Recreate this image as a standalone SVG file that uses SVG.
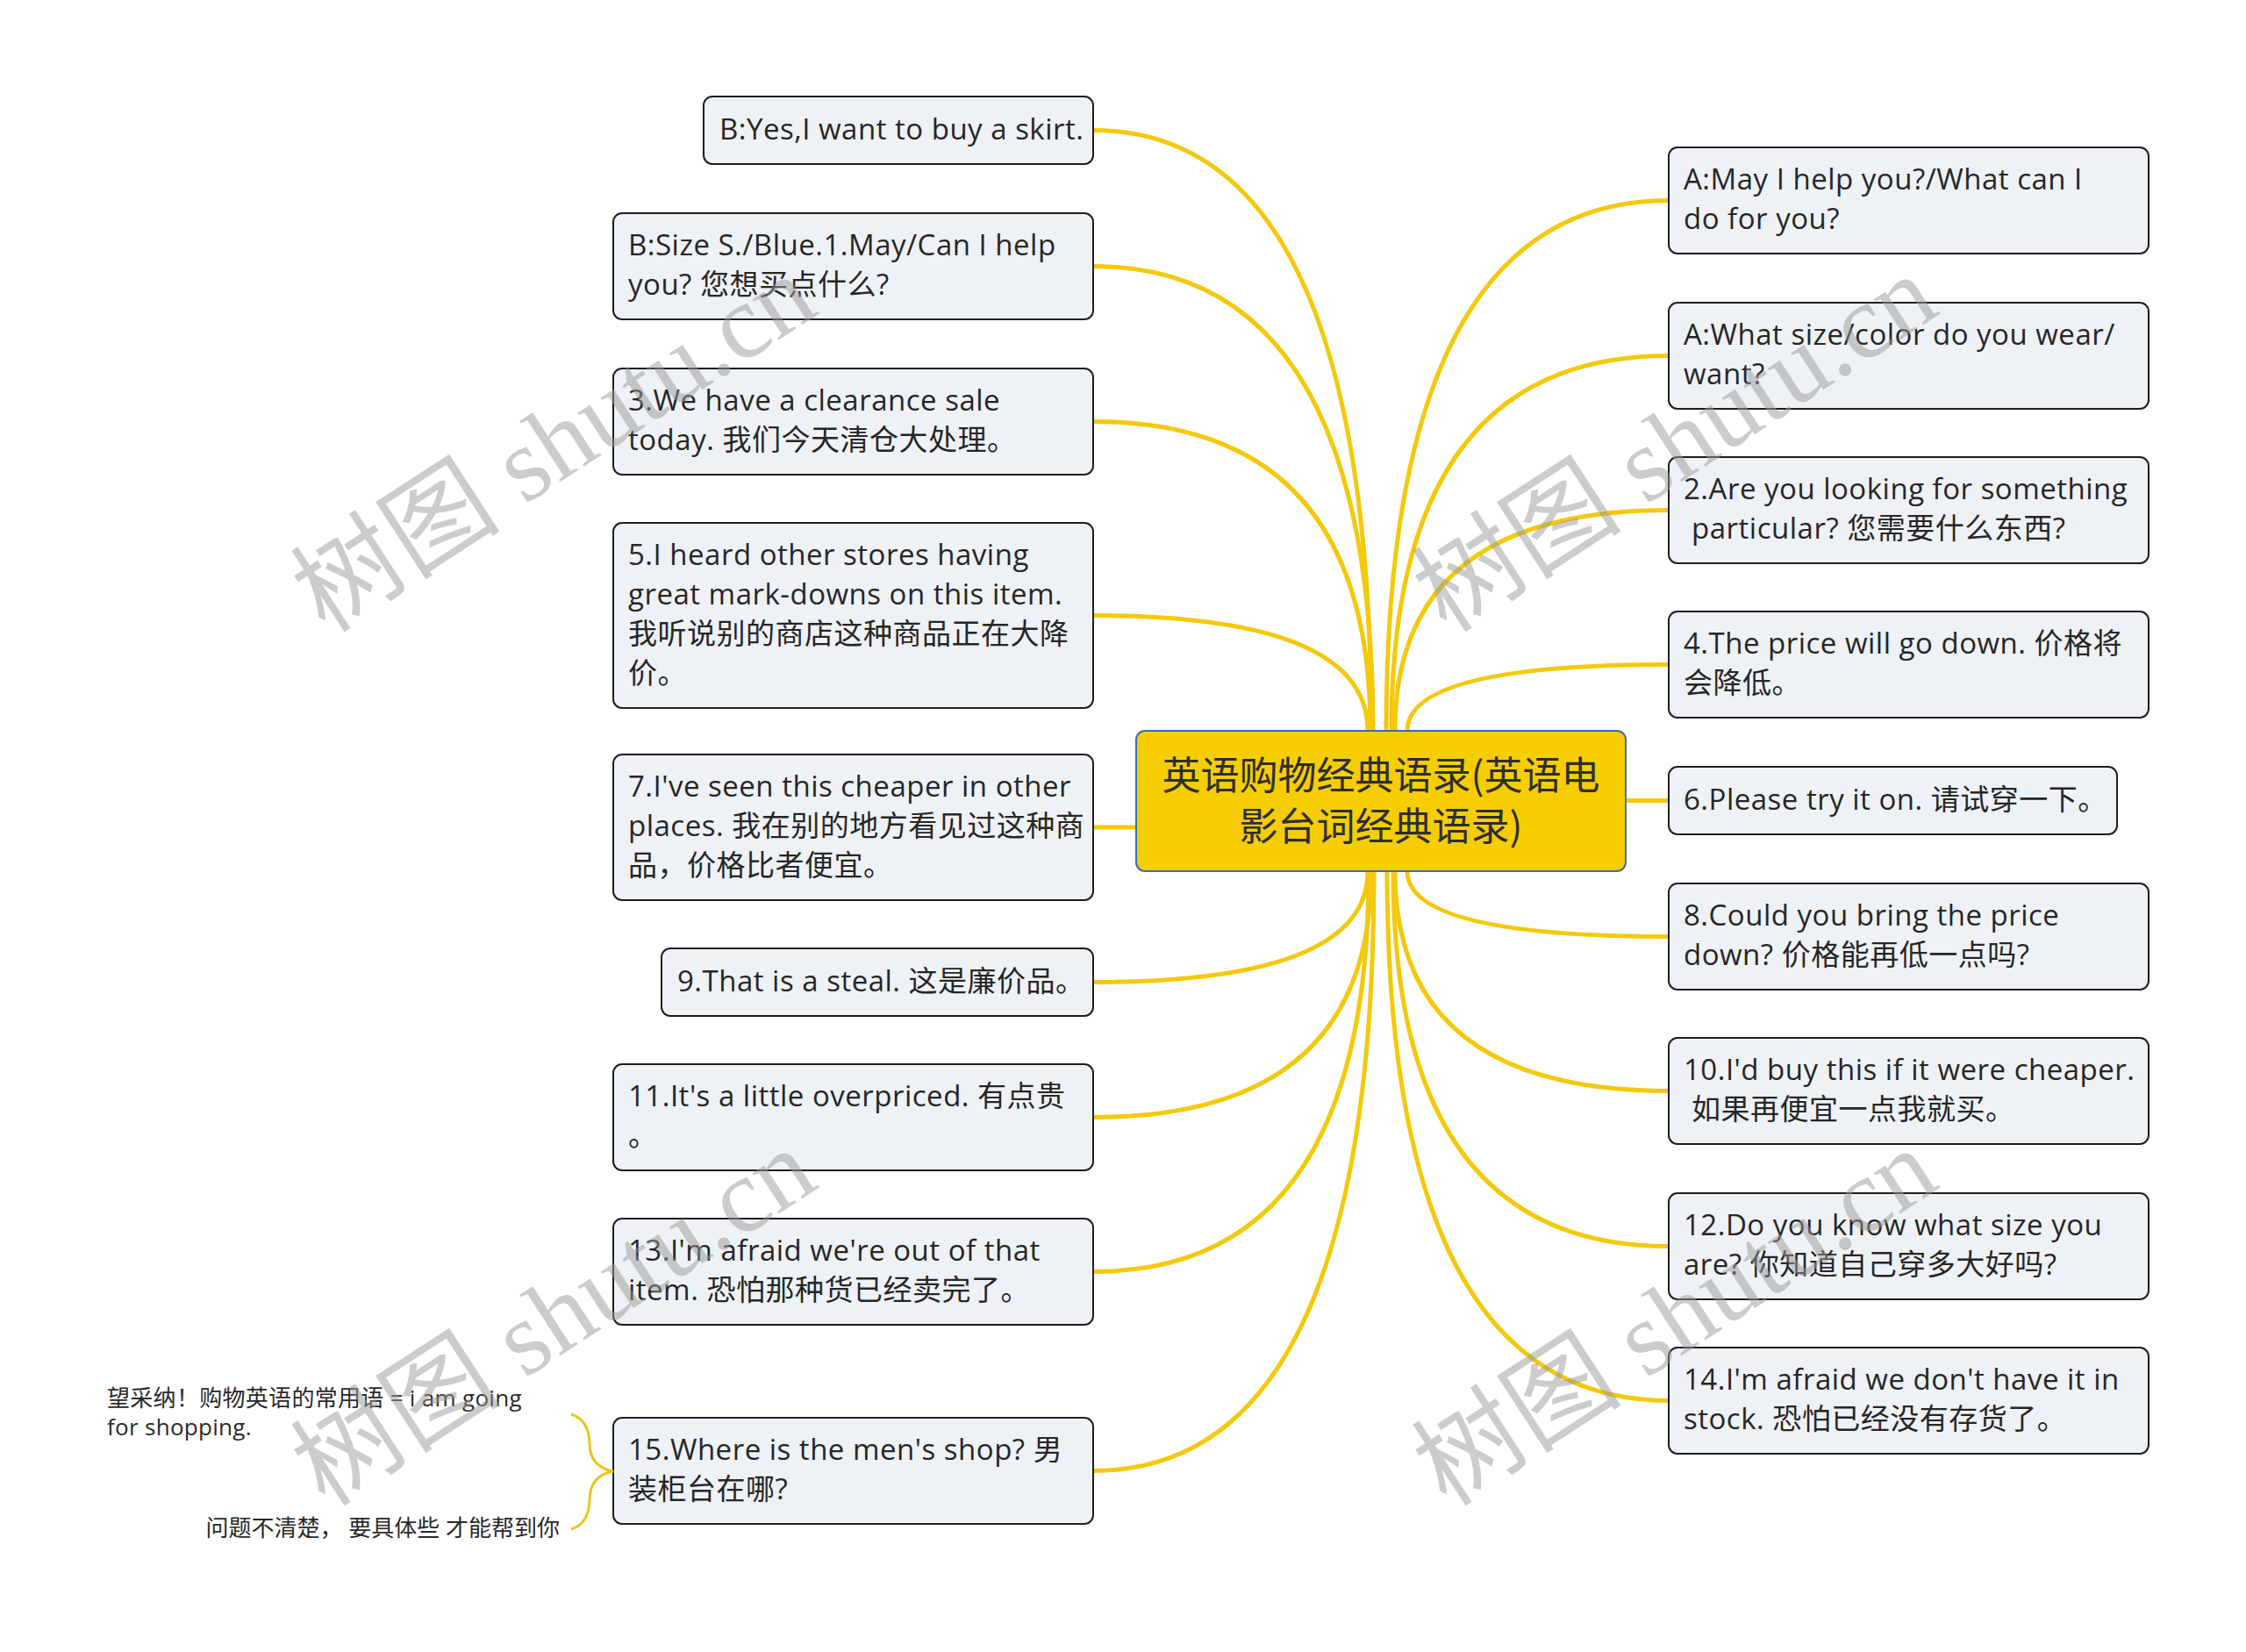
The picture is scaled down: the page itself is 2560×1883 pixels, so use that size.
<svg xmlns="http://www.w3.org/2000/svg" width="2560" height="1883" viewBox="0 0 2560 1883">
<defs>
<style>
.bg{fill:#ffffff}
.node rect{fill:#eef1f5;stroke:#1e1e1e;stroke-width:2}
.node text{font-family:"Open Sans","Noto Sans CJK SC",sans-serif;font-size:33px;letter-spacing:0.5px;fill:#262626}
.root rect{fill:#f5cd00;stroke:#3a6ea5;stroke-width:2}
.root text{font-family:"Noto Sans CJK SC",sans-serif;font-size:44px;fill:#2e2e2e;text-anchor:middle}
.conn path{fill:none;stroke:#f4c90a;stroke-width:5;stroke-linecap:round}
.brace{fill:none;stroke:#f0c419;stroke-width:3}
.note{font-family:"Open Sans","Noto Sans CJK SC",sans-serif;font-size:26px;fill:#2a2a2a}
.wm{font-family:"Liberation Serif","Noto Sans CJK SC",serif;font-size:120px;fill:#9a9a9a;opacity:0.5}
</style>
</defs>
<rect class="bg" x="0" y="0" width="2560" height="1883"/>
<g id="connectors" class="conn">
<path d="M1563,833 Q1563,148.5 1246,148.5"/>
<path d="M1565,833 Q1565,303.5 1246,303.5"/>
<path d="M1562,833 Q1562,480.5 1246,480.5"/>
<path d="M1559,833 Q1559,701.5 1246,701.5"/>
<path d="M1295,943 L1246,943"/>
<path d="M1559,993 Q1559,1119.5 1246,1119.5"/>
<path d="M1563,993 Q1563,1273.5 1246,1273.5"/>
<path d="M1560,993 Q1560,1449.5 1246,1449.5"/>
<path d="M1566,993 Q1566,1676.5 1246,1676.5"/>
<path d="M1580,833 Q1580,228.5 1902,228.5"/>
<path d="M1586,833 Q1586,405.5 1902,405.5"/>
<path d="M1590,833 Q1590,581.5 1902,581.5"/>
<path d="M1604,833 Q1604,757.5 1902,757.5"/>
<path d="M1853,912.5 L1902,912.5"/>
<path d="M1604,993 Q1604,1067.5 1902,1067.5"/>
<path d="M1590,993 Q1590,1243.5 1902,1243.5"/>
<path d="M1588,993 Q1588,1420.5 1902,1420.5"/>
<path d="M1581,993 Q1581,1596.5 1902,1596.5"/>
</g>
<g id="root" class="root">
<rect x="1295" y="833" width="558" height="160" rx="10"/>
<text x="1574" y="900">英语购物经典语录(英语电</text>
<text x="1574" y="958">影台词经典语录)</text>
</g>
<g id="n_l1" class="node"><rect x="802" y="110" width="444" height="77" rx="10"/>
<text x="820" y="159">B:Yes,I want to buy a skirt.</text></g>
<g id="n_l2" class="node"><rect x="699" y="243" width="547" height="121" rx="10"/>
<text x="716" y="291">B:Size S./Blue.1.May/Can I help</text><text x="716" y="336">you? 您想买点什么?</text></g>
<g id="n_l3" class="node"><rect x="699" y="420" width="547" height="121" rx="10"/>
<text x="716" y="468">3.We have a clearance sale</text><text x="716" y="513">today. 我们今天清仓大处理。</text></g>
<g id="n_l4" class="node"><rect x="699" y="596" width="547" height="211" rx="10"/>
<text x="716" y="644">5.I heard other stores having</text><text x="716" y="689">great mark-downs on this item.</text><text x="716" y="734">我听说别的商店这种商品正在大降</text><text x="716" y="779">价。</text></g>
<g id="n_l5" class="node"><rect x="699" y="860" width="547" height="166" rx="10"/>
<text x="716" y="908">7.I've seen this cheaper in other</text><text x="716" y="953">places. 我在别的地方看见过这种商</text><text x="716" y="998">品，价格比者便宜。</text></g>
<g id="n_l6" class="node"><rect x="754" y="1081" width="492" height="77" rx="10"/>
<text x="772" y="1130">9.That is a steal. 这是廉价品。</text></g>
<g id="n_l7" class="node"><rect x="699" y="1213" width="547" height="121" rx="10"/>
<text x="716" y="1261">11.It's a little overpriced. 有点贵</text><text x="716" y="1306">。</text></g>
<g id="n_l8" class="node"><rect x="699" y="1389" width="547" height="121" rx="10"/>
<text x="716" y="1437">13.I'm afraid we're out of that</text><text x="716" y="1482">item. 恐怕那种货已经卖完了。</text></g>
<g id="n_l9" class="node"><rect x="699" y="1616" width="547" height="121" rx="10"/>
<text x="716" y="1664">15.Where is the men's shop? 男</text><text x="716" y="1709">装柜台在哪?</text></g>
<g id="n_r1" class="node"><rect x="1902" y="168" width="547" height="121" rx="10"/>
<text x="1919" y="216">A:May I help you?/What can I</text><text x="1919" y="261">do for you?</text></g>
<g id="n_r2" class="node"><rect x="1902" y="345" width="547" height="121" rx="10"/>
<text x="1919" y="393">A:What size/color do you wear/</text><text x="1919" y="438">want?</text></g>
<g id="n_r3" class="node"><rect x="1902" y="521" width="547" height="121" rx="10"/>
<text x="1919" y="569">2.Are you looking for something</text><text x="1919" y="614" xml:space="preserve"> particular? 您需要什么东西?</text></g>
<g id="n_r4" class="node"><rect x="1902" y="697" width="547" height="121" rx="10"/>
<text x="1919" y="745">4.The price will go down. 价格将</text><text x="1919" y="790">会降低。</text></g>
<g id="n_r5" class="node"><rect x="1902" y="874" width="511" height="77" rx="10"/>
<text x="1919" y="923">6.Please try it on. 请试穿一下。</text></g>
<g id="n_r6" class="node"><rect x="1902" y="1007" width="547" height="121" rx="10"/>
<text x="1919" y="1055">8.Could you bring the price</text><text x="1919" y="1100">down? 价格能再低一点吗?</text></g>
<g id="n_r7" class="node"><rect x="1902" y="1183" width="547" height="121" rx="10"/>
<text x="1919" y="1231">10.I'd buy this if it were cheaper.</text><text x="1919" y="1276" xml:space="preserve"> 如果再便宜一点我就买。</text></g>
<g id="n_r8" class="node"><rect x="1902" y="1360" width="547" height="121" rx="10"/>
<text x="1919" y="1408">12.Do you know what size you</text><text x="1919" y="1453">are? 你知道自己穿多大好吗?</text></g>
<g id="n_r9" class="node"><rect x="1902" y="1536" width="547" height="121" rx="10"/>
<text x="1919" y="1584">14.I'm afraid we don't have it in</text><text x="1919" y="1629">stock. 恐怕已经没有存货了。</text></g>
<g id="summary">
<path class="brace" d="M651,1612 Q671,1618 672,1645 Q672,1672 699,1677 Q672,1682 672,1710 Q671,1737 651,1743"/>
<text class="note" x="122" y="1603" letter-spacing="0.3">望采纳！购物英语的常用语 = i am going</text>
<text class="note" x="122" y="1636" letter-spacing="0.3">for shopping.</text>
<text class="note" x="638" y="1751" text-anchor="end">问题不清楚， 要具体些 才能帮到你</text>
</g>
<g id="watermarks">
<text class="wm" transform="translate(371,723) rotate(-33)">树图 shutu.cn</text>
<text class="wm" transform="translate(1649,723) rotate(-33)">树图 shutu.cn</text>
<text class="wm" transform="translate(371,1719) rotate(-33)">树图 shutu.cn</text>
<text class="wm" transform="translate(1649,1719) rotate(-33)">树图 shutu.cn</text>
</g>
</svg>
